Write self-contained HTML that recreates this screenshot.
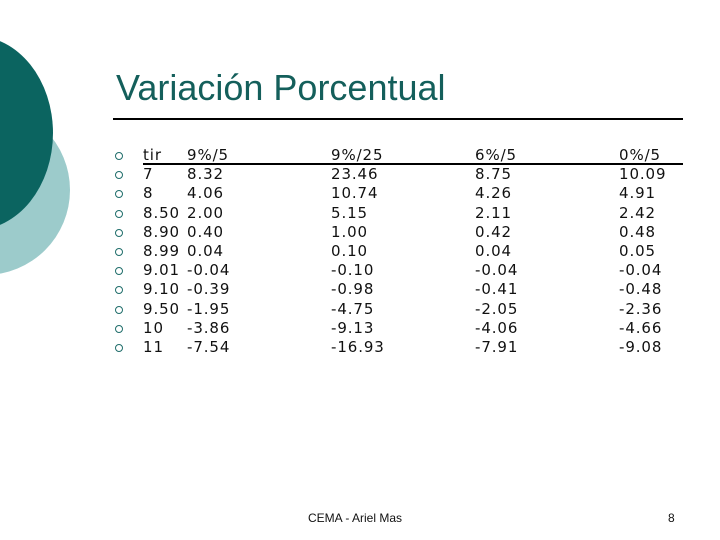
<!DOCTYPE html>
<html><head><meta charset="utf-8"><style>
body{margin:0}
#s{position:relative;width:720px;height:540px;background:#fff;overflow:hidden;font-family:"DejaVu Sans","Liberation Sans",sans-serif;color:#111}
.c{position:absolute;border-radius:50%}
.t{position:absolute;font-size:15px;letter-spacing:0.9px;white-space:nowrap;line-height:19px}
.b{position:absolute;width:6px;height:6px;border:1.3px solid #1f6d6a;border-radius:50%}
</style></head><body>
<div id="s">
<div class="c" style="left:-100px;top:105px;width:170px;height:170px;background:#9ccbcb"></div>
<div class="c" style="left:-103px;top:36px;width:156px;height:194px;background:#0b6460"></div>
<div style="position:absolute;left:116px;top:67px;font-family:'Liberation Sans',sans-serif;font-size:36px;color:#145f5b">Variación Porcentual</div>
<div style="position:absolute;left:113px;top:118px;width:570px;height:2px;background:#000"></div>
<div style="position:absolute;left:143px;top:163px;width:540px;height:1.5px;background:#000"></div>
<div id="tbl"></div>
<div style="position:absolute;left:308px;top:511px;font-family:'Liberation Sans',sans-serif;font-size:12px">CEMA - Ariel Mas</div>
<div style="position:absolute;left:668px;top:511px;font-family:'Liberation Sans',sans-serif;font-size:12px">8</div>
</div>
<script>
const headers=["tir","9%/5","9%/25","6%/5","0%/5"];
const tir=["7","8","8.50","8.90","8.99","9.01","9.10","9.50","10","11"];
const s1=["8.32","4.06","2.00","0.40","0.04","-0.04","-0.39","-1.95","-3.86","-7.54"];
const s2=["23.46","10.74","5.15","1.00","0.10","-0.10","-0.98","-4.75","-9.13","-16.93"];
const s3=["8.75","4.26","2.11","0.42","0.04","-0.04","-0.41","-2.05","-4.06","-7.91"];
const s4=["10.09","4.91","2.42","0.48","0.05","-0.04","-0.48","-2.36","-4.66","-9.08"];
const colX=[143,187,331,475,619];
const tbl=document.getElementById('s');
const cols=[tir,s1,s2,s3,s4];
function rowY(i){return 146+i*19.2;}
for(let i=0;i<=tir.length;i++){
  const b=document.createElement('div');b.className='b';
  b.style.left='115px';b.style.top=(rowY(i)+6)+'px';
  
  
  tbl.appendChild(b);
  for(let c=0;c<5;c++){
    const d=document.createElement('div');d.className='t';
    d.style.left=colX[c]+'px';d.style.top=rowY(i)+'px';
    d.textContent=i===0?headers[c]:cols[c][i-1];
    
    
    tbl.appendChild(d);
  }
}
</script>
</body></html>
